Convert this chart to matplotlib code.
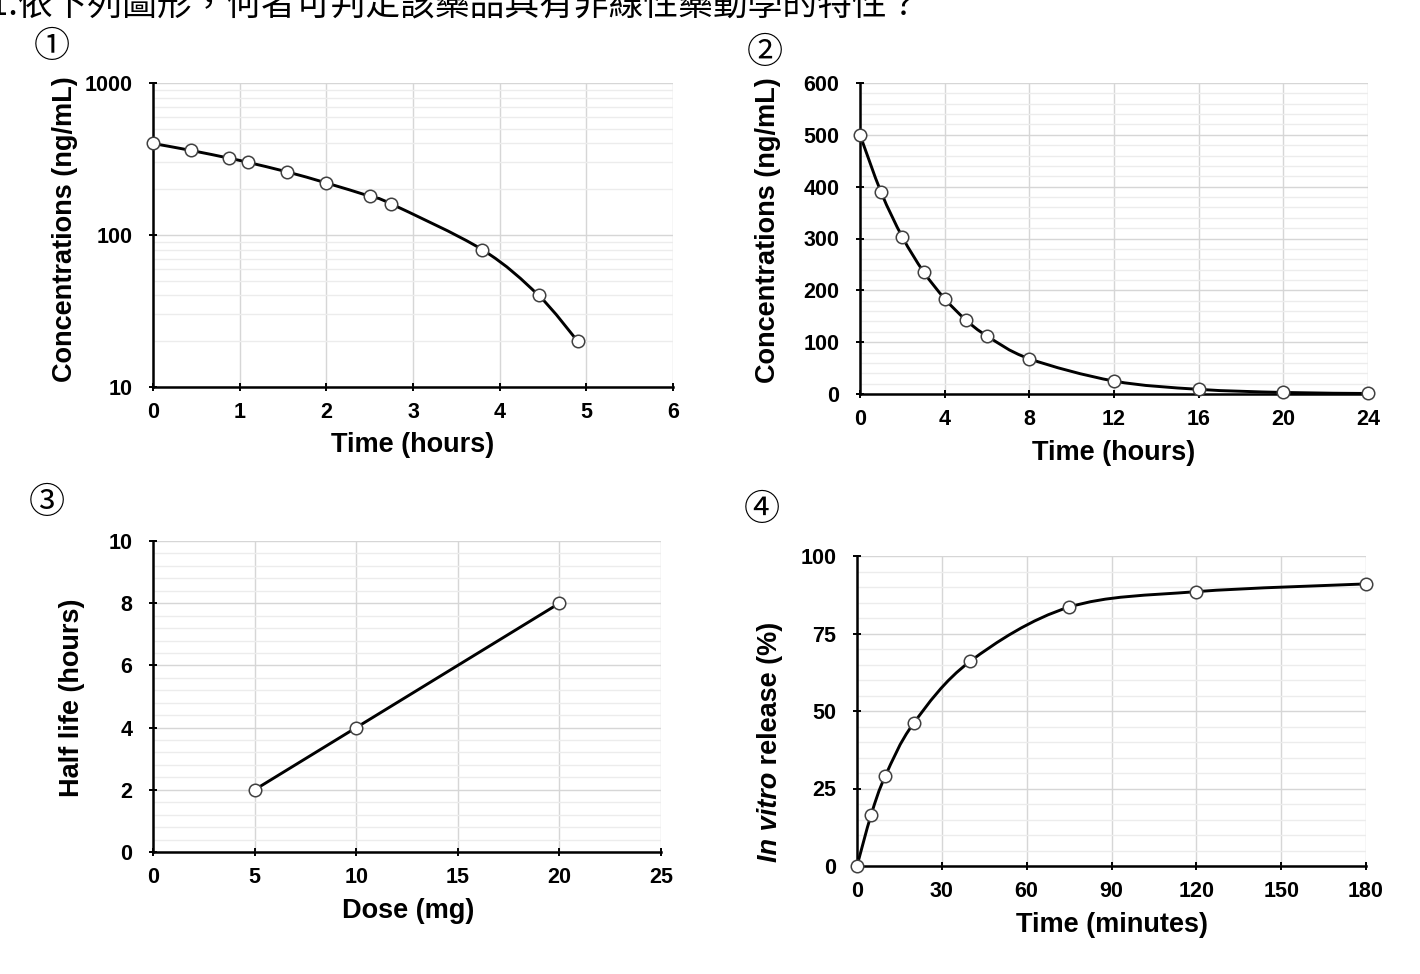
import numpy as np
import matplotlib
matplotlib.use('Agg')
from matplotlib import pyplot as plt
from matplotlib.path import Path
from matplotlib.patches import PathPatch
from matplotlib.ticker import MultipleLocator, LogLocator, NullFormatter

plt.rcParams['font.family'] = ['Liberation Sans', 'DejaVu Sans']

# ---- data ----
# (1) concentration vs time, log scale
time_1 = [0, 0.44, 0.88, 1.1, 1.55, 2.0, 2.5, 2.75, 3.8, 4.45, 4.9]
conc_1 = [400, 360, 320, 300, 260, 220, 180, 160, 80, 40, 20]
# (2) concentration vs time, linear scale
time_2 = [0, 1, 2, 3, 4, 5, 6, 8, 12, 16, 20, 24]
conc_2 = [500, 389, 303, 236, 184, 143, 112, 68, 25, 9, 3, 1]
# (3) half life vs dose
dose_3 = [5, 10, 20]
half_life_3 = [2, 4, 8]
# (4) in vitro release
time_4 = [0, 5, 10, 20, 40, 75, 120, 180]
release_4 = [0, 16.5, 29, 46, 66, 83.5, 88.5, 91]

title = '1.依下列圖形，何者可判定該藥品具有非線性藥動學的特性？'
cjk = ['Noto Sans CJK TC', 'DejaVu Sans']

W, H = 1420, 974


def px_axes(l, t, r, b):
    return [l / W, 1 - b / H, (r - l) / W, (b - t) / H]


def smooth_line(ax, x, y, logy=False, **kw):
    """Excel-like smoothed line (cubic bezier through the points)."""
    x = np.asarray(x, float)
    y = np.asarray(y, float)
    if logy:
        y = np.log10(y)
    n = len(x)
    verts = [(x[0], y[0])]
    for i in range(n - 1):
        a = max(i - 1, 0)
        d = min(i + 2, n - 1)
        c1 = (x[i] + (x[i + 1] - x[a]) / 6, y[i] + (y[i + 1] - y[a]) / 6)
        c2 = (x[i + 1] - (x[d] - x[i]) / 6, y[i + 1] - (y[d] - y[i]) / 6)
        verts += [c1, c2, (x[i + 1], y[i + 1])]
    verts = np.array(verts)
    if logy:
        verts[:, 1] = 10 ** verts[:, 1]
    codes = [Path.MOVETO] + [Path.CURVE4] * (3 * (n - 1))
    patch = PathPatch(Path(verts, codes), fill=False, **kw)
    ax.add_patch(patch)


def markers(ax, x, y):
    ax.plot(x, y, 'o', ms=9, mfc='white', mec='#404040', mew=1.1,
            zorder=4, clip_on=False)


def style(ax):
    for s in ['top', 'right']:
        ax.spines[s].set_visible(False)
    for s in ['left', 'bottom']:
        ax.spines[s].set_linewidth(1.8)
    ax.set_axisbelow(True)
    ax.grid(which='major', color='#d6d6d6', lw=1.0)
    ax.grid(which='minor', axis='y', color='#ececec', lw=1.0)
    ax.tick_params(which='minor', length=0)
    ax.tick_params(which='major', direction='inout', length=6, width=1.4,
                   labelsize=15.5)
    ax.tick_params(axis='x', pad=8)
    ax.tick_params(axis='y', pad=12)
    for lab in ax.get_xticklabels() + ax.get_yticklabels():
        lab.set_fontweight('bold')


LW = 2.1
lab_kw = dict(fontsize=19.5, fontweight='bold', va='center')

fig = plt.figure(figsize=(W / 100, H / 100), dpi=100)

# ---------- panel 1 ----------
ax1 = fig.add_axes(px_axes(153, 83, 673, 387))
ax1.set_yscale('log')
ax1.set_xlim(0, 6)
ax1.set_ylim(10, 1000)
ax1.xaxis.set_major_locator(MultipleLocator(1))
ax1.set_yticks([10, 100, 1000], labels=['10', '100', '1000'])
ax1.yaxis.set_minor_locator(LogLocator(subs=np.arange(2, 10)))
ax1.yaxis.set_minor_formatter(NullFormatter())
smooth_line(ax1, time_1, conc_1, logy=True, color='black', lw=LW, zorder=3)
markers(ax1, time_1, conc_1)
style(ax1)
ax1.set_xlabel('Time (hours)', **lab_kw)
ax1.set_ylabel('Concentrations (ng/mL)', **lab_kw)
ax1.xaxis.set_label_coords(0.5, -0.19)
ax1.yaxis.set_label_coords(-0.169, 0.52)

# ---------- panel 2 ----------
ax2 = fig.add_axes(px_axes(860, 83, 1368, 394))
ax2.set_xlim(0, 24)
ax2.set_ylim(0, 600)
ax2.xaxis.set_major_locator(MultipleLocator(4))
ax2.yaxis.set_major_locator(MultipleLocator(100))
ax2.yaxis.set_minor_locator(MultipleLocator(20))
smooth_line(ax2, time_2, conc_2, color='black', lw=LW, zorder=3)
markers(ax2, time_2, conc_2)
style(ax2)
ax2.set_xlabel('Time (hours)', **lab_kw)
ax2.set_ylabel('Concentrations (ng/mL)', **lab_kw)
ax2.xaxis.set_label_coords(0.5, -0.19)
ax2.yaxis.set_label_coords(-0.181, 0.527)

# ---------- panel 3 ----------
ax3 = fig.add_axes(px_axes(153, 541, 661, 852))
ax3.set_xlim(0, 25)
ax3.set_ylim(0, 10)
ax3.xaxis.set_major_locator(MultipleLocator(5))
ax3.yaxis.set_major_locator(MultipleLocator(2))
ax3.yaxis.set_minor_locator(MultipleLocator(0.4))
ax3.plot(dose_3, half_life_3, color='black', lw=LW, zorder=3)
markers(ax3, dose_3, half_life_3)
style(ax3)
ax3.set_xlabel('Dose (mg)', **lab_kw)
ax3.set_ylabel('Half life (hours)', **lab_kw)
ax3.xaxis.set_label_coords(0.502, -0.19)
ax3.yaxis.set_label_coords(-0.159, 0.495)

# ---------- panel 4 ----------
ax4 = fig.add_axes(px_axes(857, 556, 1366, 866))
ax4.set_xlim(0, 180)
ax4.set_ylim(0, 100)
ax4.xaxis.set_major_locator(MultipleLocator(30))
ax4.yaxis.set_major_locator(MultipleLocator(25))
ax4.yaxis.set_minor_locator(MultipleLocator(5))
smooth_line(ax4, time_4, release_4, color='black', lw=LW, zorder=3)
markers(ax4, time_4, release_4)
style(ax4)
ax4.set_xlabel('Time (minutes)', **lab_kw)
ax4.xaxis.set_label_coords(0.5, -0.19)
t_it = ax4.text(-0.145, 0.013, 'In vitro', transform=ax4.transAxes,
                rotation=90, ha='right', va='bottom', fontsize=19.5,
                fontweight='bold', fontstyle='italic')
ax4.annotate(' release (%)', xy=(1, 1), xycoords=t_it, rotation=90,
             ha='right', va='bottom', fontsize=19.5, fontweight='bold')

# circled panel numbers
for s, (x, y) in zip(['①', '②', '③', '④'],
                     [(52, 47), (765, 53), (47, 503), (762, 510)]):
    fig.text(x / W, 1 - y / H, s, family=cjk, fontsize=26,
             ha='center', va='center')

# question text, cut off at the top of the image (as in the source)
fig.text(-11 / W, 1 - 14 / H, title, family=cjk, fontsize=25,
         ha='left', va='baseline')

fig.savefig('out.png', dpi=100)
